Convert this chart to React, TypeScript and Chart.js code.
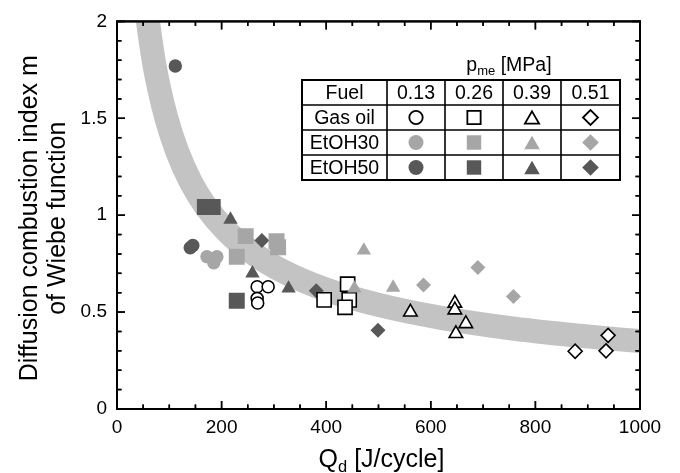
import React, { useEffect, useRef, useState } from "react";
import { Chart, registerables } from "chart.js";

Chart.register(...registerables);

const FONT = "'Liberation Sans', Arial, Helvetica, sans-serif";

const X_MIN = 0;
const X_MAX = 1000;
const Y_MIN = 0;
const Y_MAX = 2;
const X_STEP = 200;
const Y_STEP = 0.5;
const X_MINOR = 50;
const Y_MINOR = 0.1;

const pressureLabels = ["0.13", "0.26", "0.39", "0.51"];
const fuelLabels = ["Gas oil", "EtOH30", "EtOH50"];
const pointStyles = ["circle", "rect", "triangle", "rectRot"];

// grey fitted band
const bandQ = [57, 62, 70, 80, 95, 115, 140, 170, 210, 260, 320, 400, 500, 620, 760, 880, 1000];
const bandM = [2.045, 1.944, 1.8, 1.66, 1.495, 1.33, 1.177, 1.044, 0.917, 0.804, 0.707, 0.616, 0.537, 0.47, 0.414, 0.379, 0.35];

// Gas oil
const gasOil013Q = [268, 289, 268, 269];
const gasOil013M = [0.631, 0.631, 0.571, 0.547];
const gasOil026Q = [396, 441, 444, 436];
const gasOil026M = [0.563, 0.644, 0.563, 0.525];
const gasOil039Q = [561, 646, 646, 667, 648];
const gasOil039M = [0.5, 0.546, 0.511, 0.44, 0.389];
const gasOil051Q = [876, 939, 935];
const gasOil051M = [0.298, 0.38, 0.3];

// EtOH30
const etoh30_013Q = [172, 191, 185];
const etoh30_013M = [0.786, 0.786, 0.755];
const etoh30_026Q = [246, 229, 305, 308];
const etoh30_026M = [0.892, 0.786, 0.866, 0.835];
const etoh30_039Q = [472, 454, 528];
const etoh30_039M = [0.818, 0.622, 0.627];
const etoh30_051Q = [586, 690, 758];
const etoh30_051M = [0.64, 0.73, 0.58];

// EtOH50
const etoh50_013Q = [111.5, 140, 145];
const etoh50_013M = [1.77, 0.832, 0.844];
const etoh50_026Q = [168, 183, 229];
const etoh50_026M = [1.042, 1.042, 0.559];
const etoh50_039Q = [217, 259, 328];
const etoh50_039M = [0.977, 0.7, 0.622];
const etoh50_051Q = [277, 381, 499];
const etoh50_051M = [0.87, 0.61, 0.406];

const DARK = "#585858";
const LIGHT = "#a6a6a6";
const BAND = "#c3c3c3";

const zip = (xs: number[], ys: number[]) => xs.map((x, i) => ({ x, y: ys[i] }));

const radiusFor = (style: string, open: boolean) => {
  if (style === "circle") return open ? 6 : 6.7;
  if (style === "rect") return open ? 10 : 11.3;
  if (style === "triangle") return open ? 7.8 : 8.3;
  return open ? 7 : 7.5;
};

const series = [
  { fuel: 1, p: 0, q: etoh30_013Q, m: etoh30_013M },
  { fuel: 1, p: 1, q: etoh30_026Q, m: etoh30_026M },
  { fuel: 1, p: 2, q: etoh30_039Q, m: etoh30_039M },
  { fuel: 1, p: 3, q: etoh30_051Q, m: etoh30_051M },
  { fuel: 0, p: 0, q: gasOil013Q, m: gasOil013M },
  { fuel: 0, p: 1, q: gasOil026Q, m: gasOil026M },
  { fuel: 0, p: 2, q: gasOil039Q, m: gasOil039M },
  { fuel: 0, p: 3, q: gasOil051Q, m: gasOil051M },
  { fuel: 2, p: 0, q: etoh50_013Q, m: etoh50_013M },
  { fuel: 2, p: 1, q: etoh50_026Q, m: etoh50_026M },
  { fuel: 2, p: 2, q: etoh50_039Q, m: etoh50_039M },
  { fuel: 2, p: 3, q: etoh50_051Q, m: etoh50_051M },
];

function drawShape(
  ctx: CanvasRenderingContext2D,
  style: string,
  x: number,
  y: number,
  r: number,
  fill: string,
  stroke: string | null,
  lw: number
) {
  ctx.beginPath();
  if (style === "circle") {
    ctx.arc(x, y, r, 0, Math.PI * 2);
  } else if (style === "rect") {
    const s = r * Math.SQRT1_2;
    ctx.rect(x - s, y - s, 2 * s, 2 * s);
  } else if (style === "triangle") {
    const a = (2 * Math.PI) / 3;
    ctx.moveTo(x, y - r);
    ctx.lineTo(x + r * Math.sin(a), y - r * Math.cos(a));
    ctx.lineTo(x + r * Math.sin(2 * a), y - r * Math.cos(2 * a));
    ctx.closePath();
  } else {
    ctx.moveTo(x - r, y);
    ctx.lineTo(x, y - r);
    ctx.lineTo(x + r, y);
    ctx.lineTo(x, y + r);
    ctx.closePath();
  }
  ctx.fillStyle = fill;
  ctx.fill();
  if (stroke) {
    ctx.lineWidth = lw;
    ctx.strokeStyle = stroke;
    ctx.stroke();
  }
}

type Geo = {
  left: number;
  right: number;
  top: number;
  bottom: number;
  xt: { p: number; major: boolean }[];
  yt: { p: number; major: boolean }[];
};

function computeGeo(chart: any): Geo {
  const xs = chart.scales.x;
  const ys = chart.scales.y;
  const xt: { p: number; major: boolean }[] = [];
  const yt: { p: number; major: boolean }[] = [];
  const nx = Math.round((X_MAX - X_MIN) / X_MINOR);
  const xEvery = Math.round(X_STEP / X_MINOR);
  for (let i = 0; i <= nx; i++) xt.push({ p: xs.getPixelForValue(X_MIN + i * X_MINOR), major: i % xEvery === 0 });
  const ny = Math.round((Y_MAX - Y_MIN) / Y_MINOR);
  const yEvery = Math.round(Y_STEP / Y_MINOR);
  for (let i = 0; i <= ny; i++) yt.push({ p: ys.getPixelForValue(Y_MIN + i * Y_MINOR), major: i % yEvery === 0 });
  return {
    left: xs.getPixelForValue(X_MIN),
    right: xs.getPixelForValue(X_MAX),
    top: ys.getPixelForValue(Y_MAX),
    bottom: ys.getPixelForValue(Y_MIN),
    xt,
    yt,
  };
}

const decorPlugin = {
  id: "decorTable",
  afterDraw(chart: any) {
    const ctx: CanvasRenderingContext2D = chart.ctx;
    const g = computeGeo(chart);
    const { left, right, top, bottom } = g;
    ctx.save();

    // frame + ticks on canvas
    ctx.strokeStyle = "#000";
    ctx.lineWidth = 1.5;
    ctx.beginPath();
    g.xt.forEach((t) => {
      const len = t.major ? 8 : 4.5;
      ctx.moveTo(t.p, bottom);
      ctx.lineTo(t.p, bottom - len);
      ctx.moveTo(t.p, top);
      ctx.lineTo(t.p, top + len);
    });
    g.yt.forEach((t) => {
      const len = t.major ? 8 : 4.5;
      ctx.moveTo(left, t.p);
      ctx.lineTo(left + len, t.p);
      ctx.moveTo(right, t.p);
      ctx.lineTo(right - len, t.p);
    });
    ctx.stroke();
    ctx.lineWidth = 2;
    ctx.strokeRect(left, top, right - left, bottom - top);

    // axis titles
    ctx.fillStyle = "#000";
    ctx.textBaseline = "alphabetic";
    const big = `25px ${FONT}`;
    const sub = `16.5px ${FONT}`;
    ctx.font = big;
    const wQ = ctx.measureText("Q").width;
    const wRest = ctx.measureText(" [J/cycle]").width;
    ctx.font = sub;
    const wd = ctx.measureText("d").width;
    const total = wQ + wd + wRest;
    let cx = (left + right) / 2 + 3 - total / 2;
    const by = 467;
    ctx.textAlign = "left";
    ctx.font = big;
    ctx.fillText("Q", cx, by);
    cx += wQ;
    ctx.font = sub;
    ctx.fillText("d", cx, by + 5);
    cx += wd;
    ctx.font = big;
    ctx.fillText(" [J/cycle]", cx, by);

    ctx.save();
    ctx.translate(0, (top + bottom) / 2 + 3);
    ctx.rotate(-Math.PI / 2);
    ctx.textAlign = "center";
    ctx.textBaseline = "middle";
    ctx.font = big;
    ctx.fillStyle = "#000";
    ctx.fillText("Diffusion combustion index m", 0, 30);
    ctx.fillText("of Wiebe function", 0, 58);
    ctx.restore();

    // legend table
    const colX = [302, 387, 445, 503, 561, 620];
    const rowY = [80, 105, 130, 155, 180];
    ctx.fillStyle = "#fff";
    ctx.fillRect(colX[0], rowY[0], colX[5] - colX[0], rowY[4] - rowY[0]);
    ctx.strokeStyle = "#000";
    ctx.lineWidth = 1.6;
    ctx.beginPath();
    for (let i = 1; i < colX.length - 1; i++) {
      ctx.moveTo(colX[i], rowY[0]);
      ctx.lineTo(colX[i], rowY[4]);
    }
    for (let j = 1; j < rowY.length - 1; j++) {
      ctx.moveTo(colX[0], rowY[j]);
      ctx.lineTo(colX[5], rowY[j]);
    }
    ctx.stroke();
    ctx.lineWidth = 2;
    ctx.strokeRect(colX[0], rowY[0], colX[5] - colX[0], rowY[4] - rowY[0]);

    ctx.font = `19.5px ${FONT}`;
    ctx.fillStyle = "#000";
    ctx.textAlign = "center";
    ctx.textBaseline = "middle";
    const midY = (j: number) => (rowY[j] + rowY[j + 1]) / 2 + 1;
    const midX = (i: number) => (colX[i] + colX[i + 1]) / 2;
    ctx.fillText("Fuel", midX(0), midY(0));
    pressureLabels.forEach((p, i) => ctx.fillText(p, midX(i + 1), midY(0)));
    fuelLabels.forEach((f, j) => ctx.fillText(f, midX(0), midY(j + 1)));

    const legR: Record<string, number> = { circle: 7.5, rect: 10.2, triangle: 9, rectRot: 8.3 };
    fuelLabels.forEach((_, j) => {
      pointStyles.forEach((st, i) => {
        const r = legR[st] - (j === 0 ? 0.8 : 0);
        const x = midX(i + 1);
        let y = midY(j + 1) - 1;
        if (st === "triangle") y += r / 4;
        if (j === 0) drawShape(ctx, st, x, y, r, "#fff", "#000", 1.8);
        else drawShape(ctx, st, x, y, r, j === 1 ? LIGHT : DARK, null, 0);
      });
    });

    // p_me [MPa]
    ctx.fillStyle = "#000";
    ctx.textAlign = "left";
    ctx.textBaseline = "alphabetic";
    const pf = `19.5px ${FONT}`;
    const sf = `13px ${FONT}`;
    ctx.font = pf;
    const wp = ctx.measureText("p").width;
    const wm = ctx.measureText(" [MPa]").width;
    ctx.font = sf;
    const wme = ctx.measureText("me").width;
    let tx = 509 - (wp + wme + wm) / 2;
    const ty = 71;
    ctx.font = pf;
    ctx.fillText("p", tx, ty);
    tx += wp;
    ctx.font = sf;
    ctx.fillText("me", tx, ty + 4);
    tx += wme;
    ctx.font = pf;
    ctx.fillText(" [MPa]", tx, ty);

    ctx.restore();
  },
};

export default function App() {
  const ref = useRef<HTMLCanvasElement | null>(null);
  const [geo, setGeo] = useState<Geo | null>(null);

  useEffect(() => {
    const canvas = ref.current;
    if (!canvas) return;

    const pointSets = series.map((s) => {
      const style = pointStyles[s.p];
      const open = s.fuel === 0;
      const color = s.fuel === 1 ? LIGHT : DARK;
      return {
        label: `${fuelLabels[s.fuel]} ${pressureLabels[s.p]}`,
        data: zip(s.q, s.m),
        pointStyle: style,
        pointRadius: radiusFor(style, open),
        pointHoverRadius: radiusFor(style, open),
        backgroundColor: open ? "#ffffff" : color,
        borderColor: open ? "#000000" : color,
        borderWidth: open ? 1.6 : 0,
        showLine: false,
      };
    });

    const bandSet = {
      label: "fit",
      data: zip(bandQ, bandM),
      showLine: true,
      borderColor: BAND,
      backgroundColor: BAND,
      borderWidth: 24,
      pointRadius: 0,
      pointHoverRadius: 0,
      fill: false,
      cubicInterpolationMode: "monotone",
      borderCapStyle: "butt",
      borderJoinStyle: "round",
      clip: 0,
    };

    const chart = new Chart(canvas, {
      type: "scatter",
      data: { datasets: [...pointSets, bandSet] as any },
      plugins: [decorPlugin],
      options: {
        animation: false,
        responsive: false,
        layout: { padding: { left: 0, right: 40, top: 18, bottom: 0 } },
        plugins: {
          legend: { display: false },
          tooltip: { enabled: false },
        },
        scales: {
          x: {
            type: "linear",
            min: X_MIN,
            max: X_MAX,
            grid: { display: false, drawTicks: false },
            border: { display: false },
            ticks: {
              stepSize: X_STEP,
              color: "#000",
              padding: 7,
              font: { family: FONT, size: 19 },
              maxRotation: 0,
              callback: (v: any) => String(v),
            },
            afterFit: (s: any) => {
              s.height = 64;
            },
          },
          y: {
            type: "linear",
            min: Y_MIN,
            max: Y_MAX,
            grid: { display: false, drawTicks: false },
            border: { display: false },
            ticks: {
              stepSize: Y_STEP,
              color: "#000",
              padding: 10,
              font: { family: FONT, size: 19 },
              callback: (v: any) => String(v),
            },
            afterFit: (s: any) => {
              s.width = 117;
            },
          },
        },
      } as any,
    });

    setGeo(computeGeo(chart));

    return () => chart.destroy();
  }, []);

  return (
    <div style={{ position: "absolute", left: 0, top: 0, width: 680, height: 473 }}>
      <canvas ref={ref} width={680} height={473} style={{ display: "block", width: 680, height: 473 }} />
      {geo && (
        <svg
          width={680}
          height={473}
          style={{ position: "absolute", left: 0, top: 0, pointerEvents: "none" }}
        >
          <g stroke="#000" strokeWidth={1.5} fill="none">
            {geo.xt.map((t, i) => {
              const len = t.major ? 8 : 4.5;
              return (
                <g key={"x" + i}>
                  <line x1={t.p} y1={geo.bottom} x2={t.p} y2={geo.bottom - len} />
                  <line x1={t.p} y1={geo.top} x2={t.p} y2={geo.top + len} />
                </g>
              );
            })}
            {geo.yt.map((t, i) => {
              const len = t.major ? 8 : 4.5;
              return (
                <g key={"y" + i}>
                  <line x1={geo.left} y1={t.p} x2={geo.left + len} y2={t.p} />
                  <line x1={geo.right} y1={t.p} x2={geo.right - len} y2={t.p} />
                </g>
              );
            })}
            <rect
              x={geo.left}
              y={geo.top}
              width={geo.right - geo.left}
              height={geo.bottom - geo.top}
              strokeWidth={2}
            />
          </g>
        </svg>
      )}
    </div>
  );
}
